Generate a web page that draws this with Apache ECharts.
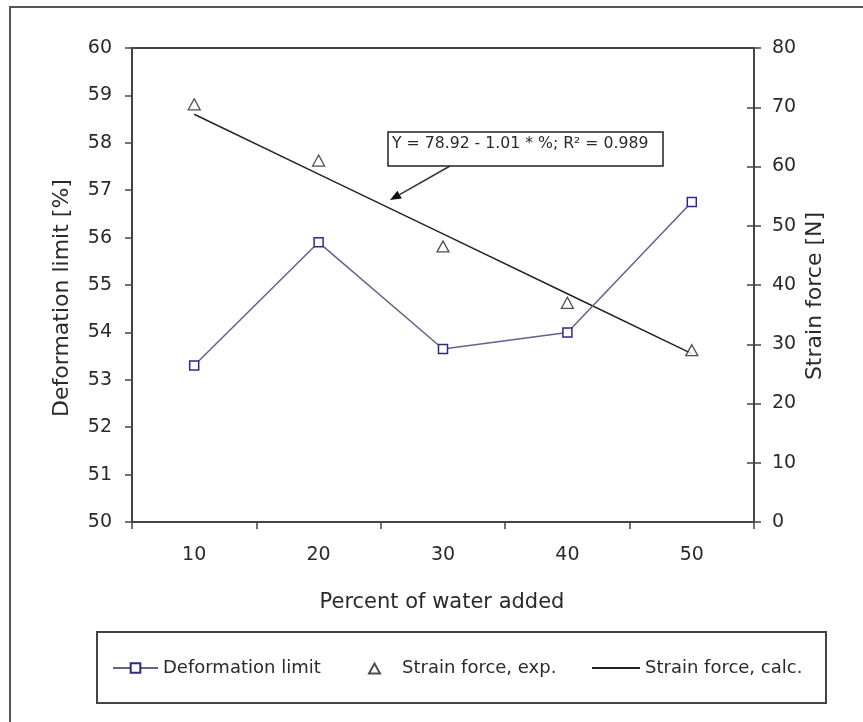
<!DOCTYPE html>
<html>
<head>
<meta charset="utf-8">
<script src="https://cdn.jsdelivr.net/npm/echarts@6/dist/echarts.min.js"></script>
<style>html,body{margin:0;padding:0;background:#fff}#c{width:863px;height:722px}</style>
</head>
<body>
<div id="c"></div>
<script>
// ---- data ----
const categories = ['10', '20', '30', '40', '50'];
const deformationLimit = [53.3, 55.9, 53.65, 54.0, 56.75];
const strainForceExp = [70.5, 61.0, 46.5, 37.0, 29.0];
const strainForceCalc = [68.82, 58.72, 48.62, 38.52, 28.42];
const leftAxisRange = [50, 60, 1];
const rightAxisRange = [0, 80, 10];
const xTitle = 'Percent of water added';
const leftTitle = 'Deformation limit [%]';
const rightTitle = 'Strain force [N]';
const equationText = 'Y = 78.92 - 1.01 * %; R\u00B2 = 0.989';

const FONT = '"DejaVu Sans", sans-serif';
const TXT = '#2a2a2a';
const AX = '#444';

const chart = echarts.init(document.getElementById('c'), null, {renderer: 'canvas'});

const legendText = {fontFamily: FONT, fontSize: 18, color: TXT};

chart.setOption({
  animation: false,
  backgroundColor: '#fff',
  grid: {left: 132, right: 109, top: 48, bottom: 200, show: true, borderColor: AX, borderWidth: 2, backgroundColor: 'transparent'},
  xAxis: {
    type: 'category', data: categories, boundaryGap: true,
    axisLine: {lineStyle: {color: AX, width: 2}},
    axisTick: {show: true, length: 7, lineStyle: {color: AX, width: 1.5}},
    axisLabel: {margin: 24, fontFamily: FONT, fontSize: 19, color: TXT},
    splitLine: {show: false}
  },
  yAxis: [
    {
      type: 'value', position: 'left', min: leftAxisRange[0], max: leftAxisRange[1], interval: leftAxisRange[2],
      axisLine: {show: true, lineStyle: {color: AX, width: 2}},
      axisTick: {show: true, length: 7, lineStyle: {color: AX, width: 1.5}},
      axisLabel: {margin: 20, fontFamily: FONT, fontSize: 19, color: TXT},
      splitLine: {show: false}
    },
    {
      type: 'value', position: 'right', min: rightAxisRange[0], max: rightAxisRange[1], interval: rightAxisRange[2],
      axisLine: {show: true, lineStyle: {color: AX, width: 2}},
      axisTick: {show: true, length: 7, lineStyle: {color: AX, width: 1.5}},
      axisLabel: {margin: 18, fontFamily: FONT, fontSize: 19, color: TXT},
      splitLine: {show: false}
    },
    {
      type: 'value', position: 'right', min: rightAxisRange[0], max: rightAxisRange[1], interval: rightAxisRange[2],
      axisLine: {show: false},
      axisTick: {show: true, inside: true, length: 7, lineStyle: {color: AX, width: 1.5}},
      axisLabel: {show: false},
      splitLine: {show: false}
    }
  ],
  legend: [
    {data: ['Deformation limit'], left: 112, top: 659, padding: 0, itemWidth: 45, itemHeight: 12, textStyle: legendText},
    {data: [{name: 'Strain force, exp.', icon: 'path://M0 0M45 0M45 11M17 11L22.5 1L28 11Z'}], left: 351, top: 659, padding: 0, itemWidth: 45, itemHeight: 11, textStyle: legendText},
    {data: [{name: 'Strain force, calc.', icon: 'rect'}], left: 592, top: 659, padding: 0, itemWidth: 48, itemHeight: 2, textStyle: legendText}
  ],
  series: [
    {
      name: 'Deformation limit', type: 'line', yAxisIndex: 0, data: deformationLimit,
      symbol: 'rect', symbolSize: 9,
      lineStyle: {color: '#62628f', width: 1.5},
      itemStyle: {color: '#ffffff', borderColor: '#2b2b85', borderWidth: 1.5},
      z: 3
    },
    {
      name: 'Strain force, exp.', type: 'scatter', yAxisIndex: 1, data: strainForceExp,
      symbol: 'triangle', symbolSize: [12, 11],
      itemStyle: {color: '#ffffff', borderColor: '#222', borderWidth: 1.3},
      z: 4
    },
    {
      name: 'Strain force, calc.', type: 'line', yAxisIndex: 1, data: strainForceCalc,
      symbol: 'none', showSymbol: false,
      lineStyle: {color: '#222', width: 1.5},
      itemStyle: {color: '#222'},
      z: 2
    }
  ],
  graphic: [
    {type: 'rect', z: 0, silent: true, shape: {x: 10, y: 7, width: 900, height: 760}, style: {fill: 'none', stroke: '#555', lineWidth: 2}},
    {type: 'rect', z: 0, silent: true, shape: {x: 97, y: 632, width: 729, height: 71}, style: {fill: 'none', stroke: AX, lineWidth: 2}},
    {type: 'text', z: 10, x: 442, y: 603, style: {text: xTitle, font: '21px ' + FONT, fill: TXT, align: 'center', verticalAlign: 'middle'}},
    {type: 'text', z: 10, x: 62, y: 298, rotation: Math.PI / 2, style: {text: leftTitle, font: '22px ' + FONT, fill: TXT, align: 'center', verticalAlign: 'middle'}},
    {type: 'text', z: 10, x: 815, y: 296, rotation: Math.PI / 2, style: {text: rightTitle, font: '22px ' + FONT, fill: TXT, align: 'center', verticalAlign: 'middle'}},
    {type: 'rect', z: 100, silent: true, shape: {x: 388, y: 132, width: 275, height: 34}, style: {fill: '#fff', stroke: '#222', lineWidth: 1.5}},
    {type: 'text', z: 101, x: 392, y: 144, style: {text: equationText, font: '15.7px ' + FONT, fill: TXT, align: 'left', verticalAlign: 'middle'}},
    {type: 'line', z: 100, silent: true, shape: {x1: 450, y1: 166, x2: 399.6, y2: 194.6}, style: {stroke: '#333', lineWidth: 1.5}},
    {type: 'polygon', z: 100, silent: true, shape: {points: [[390, 200], [401.8, 198.5], [397.4, 190.7]]}, style: {fill: '#111'}}
  ]
});
</script>
</body>
</html>
